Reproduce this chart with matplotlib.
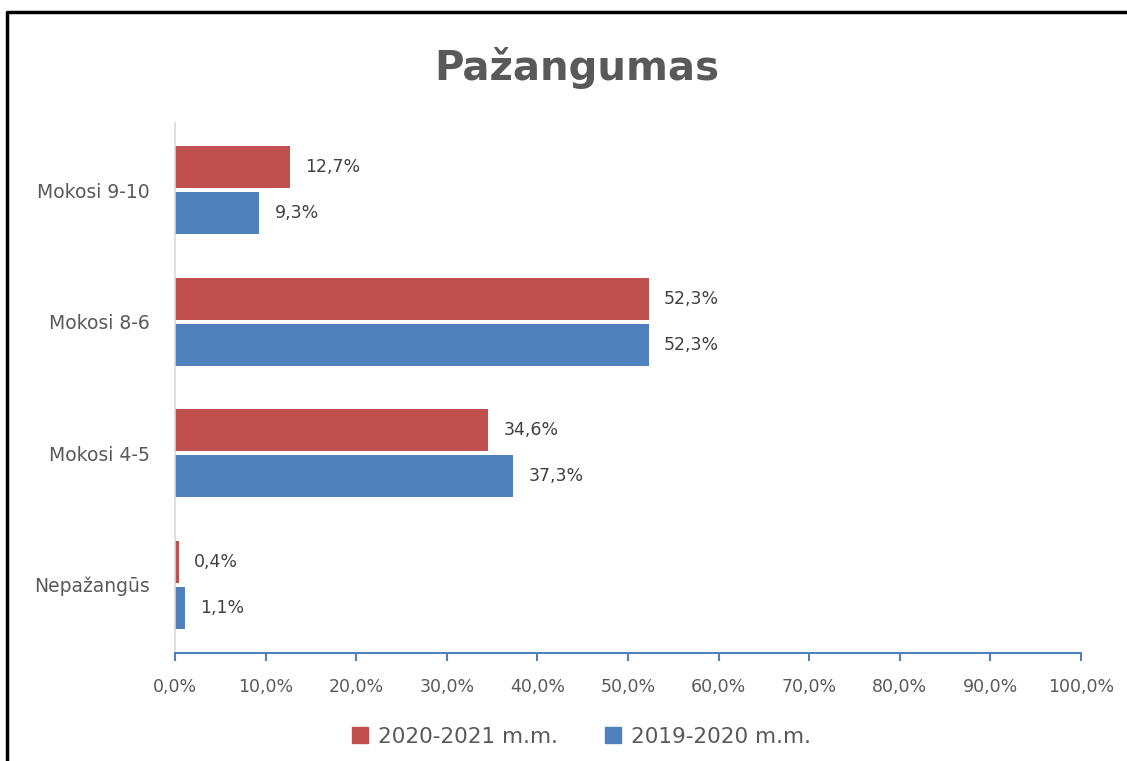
import matplotlib.pyplot as plt
from matplotlib.lines import Line2D
from matplotlib.patches import Patch

plt.rcParams['font.family'] = ['DejaVu Sans']

categories = ["Nepažangūs", "Mokosi 4-5", "Mokosi 8-6", "Mokosi 9-10"]
vals_2021 = [0.4, 34.6, 52.3, 12.7]
vals_2020 = [1.1, 37.3, 52.3, 9.3]
series_names = ["2020-2021 m.m.", "2019-2020 m.m."]
xticks = [0, 10, 20, 30, 40, 50, 60, 70, 80, 90, 100]

red = "#C0504D"
blue = "#4F81BD"
grey = "#595959"

fig = plt.figure(figsize=(11.27, 7.61), dpi=100)
ax = fig.add_axes([0.1553, 0.1419, 0.8039, 0.6961])

pos = list(range(len(categories)))
h = 0.32
off = 0.175
b1 = ax.barh([p + off for p in pos], vals_2021, height=h, color=red)
b2 = ax.barh([p - off for p in pos], vals_2020, height=h, color=blue)

for bars, vals in [(b1, vals_2021), (b2, vals_2020)]:
    for bar, v in zip(bars, vals):
        ax.annotate(("%.1f%%" % v).replace(".", ","),
                    (bar.get_width(), bar.get_y() + bar.get_height() / 2),
                    xytext=(11, 0), textcoords="offset points",
                    va="center", ha="left", fontsize=12.5, color="#404040")

ax.set_xlim(0, 100)
ax.set_ylim(-0.52, 3.51)
ax.set_xticks(xticks)
ax.set_xticklabels([("%.1f%%" % t).replace(".", ",") for t in xticks],
                   fontsize=12.5, color=grey)
ax.set_yticks(pos)
ax.set_yticklabels(categories, fontsize=13.5, color=grey)

for s in ["top", "right"]:
    ax.spines[s].set_visible(False)
ax.spines["bottom"].set_color(blue)
ax.spines["bottom"].set_linewidth(1.5)
ax.spines["left"].set_color("#D9D9D9")
ax.spines["left"].set_linewidth(1.2)
ax.tick_params(axis="x", colors=blue, length=6, width=1.5, direction="out",
               labelcolor=grey, pad=12)
ax.tick_params(axis="y", length=0, pad=18)

fig.text(0.512, 0.91, "Pažangumas", ha="center", va="center",
         fontsize=29, fontweight="bold", color=grey)

handles = [Patch(color=red, label=series_names[0]),
           Patch(color=blue, label=series_names[1])]
fig.legend(handles=handles, loc="center", bbox_to_anchor=(0.516, 0.032),
           ncol=2, frameon=False, fontsize=15.5, handlelength=0.75,
           handleheight=0.75, columnspacing=2.2, handletextpad=0.45,
           labelcolor=grey)

# chart frame (left and top edges visible)
fig.add_artist(Line2D([0.0062, 0.0062, 1.0], [0.0, 0.984, 0.984],
                      transform=fig.transFigure, color="black", linewidth=2.5))

fig.savefig("out.png", dpi=100)
